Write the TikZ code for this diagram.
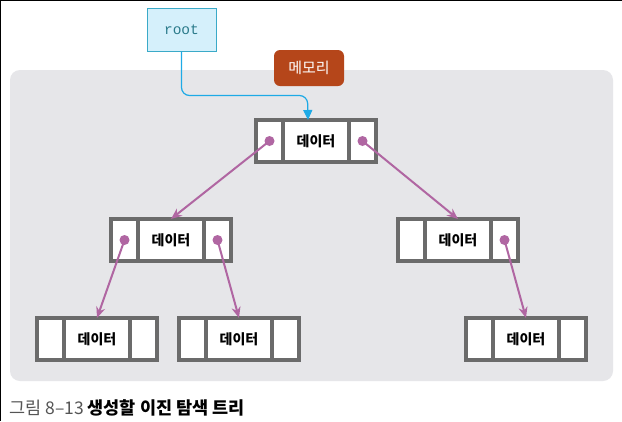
\documentclass[tikz,border=0pt]{standalone}
\usepackage{fontspec}
\newfontfamily\kr{Noto Sans CJK KR}
\setmonofont{Liberation Mono}
\usetikzlibrary{positioning,arrows.meta}
\definecolor{panelgray}{HTML}{E6E6E9}
\definecolor{cellgray}{HTML}{6B6B6B}
\definecolor{linkpink}{HTML}{B066A2}
\definecolor{ptrblue}{HTML}{1EAAE6}
\definecolor{rootfill}{HTML}{D5F0FB}
\definecolor{rootline}{HTML}{3AAAC8}
\definecolor{roottext}{HTML}{2A7A8A}
\definecolor{memfill}{HTML}{B5461A}
\definecolor{capgray}{HTML}{555555}
\newcommand\record[3]{\node[mid] (#1) at (#2,#3) {데이터};
  \node[side,left=0pt of #1] (#1l) {};
  \node[side,right=0pt of #1] (#1r) {};}
\begin{document}
\begin{tikzpicture}[x=1pt,y=-1pt,
  cell/.style={draw=cellgray,line width=3.2pt,fill=white,minimum height=42pt,outer sep=0pt,inner sep=0pt},
  side/.style={cell,minimum width=27pt},
  mid/.style={cell,minimum width=66pt,font=\kr\bfseries\fontsize{14}{16}\selectfont},
  dot/.style={circle,fill=linkpink,inner sep=0pt,minimum size=10pt},
  link/.style={draw=linkpink,line width=2pt,-{Stealth[length=11pt,width=9pt]}},
  ptr/.style={draw=ptrblue,line width=1.2pt,rounded corners=8pt,-{Triangle[length=10pt,width=9pt]}}]
\useasboundingbox (0,0) rectangle (622,421);
\fill[white] (0,0) rectangle (622,421);
\draw[line width=2pt] (0,421) -- (0,0) -- (622,0);
\fill[panelgray,rounded corners=10pt] (10,70) rectangle (613,381);
\node[draw=rootline,fill=rootfill,line width=1pt,minimum width=69pt,minimum height=43pt,
  font=\ttfamily\fontsize{14.5}{16}\selectfont,text=roottext] (root) at (181.5,29.5) {root};
\node[fill=memfill,rounded corners=6pt,minimum width=70pt,minimum height=36pt,
  font=\kr\fontsize{15}{17}\selectfont,text=white] (mem) at (309,68) {메모리};
\record{n0}{316}{141}
\record{n1}{171}{240}
\record{n2}{458}{240}
\record{n3}{97}{339}
\record{n4}{239}{339}
\record{n5}{526}{339}
\draw[ptr] (root.south) |- ++(126,44) -- ([xshift=-8pt]n0.north);
\draw[link] (n0l.center) -- (n1.north);
\draw[link] (n0r.center) -- (n2.north);
\draw[link] (n1l.center) -- (n3.north);
\draw[link] (n1r.center) -- (n4.north);
\draw[link] (n2r.center) -- (n5.north);
\foreach \n in {n0l,n0r,n1l,n1r,n2r}
  \node[dot] (\n d) at (\n) {};
\node[anchor=west,inner sep=0pt,font=\kr\fontsize{17.5}{19}\selectfont] (cap) at (9,408)
  {\textcolor{capgray}{그림 8–13} \bfseries 생성할 이진 탐색 트리};
\end{tikzpicture}
\end{document}
